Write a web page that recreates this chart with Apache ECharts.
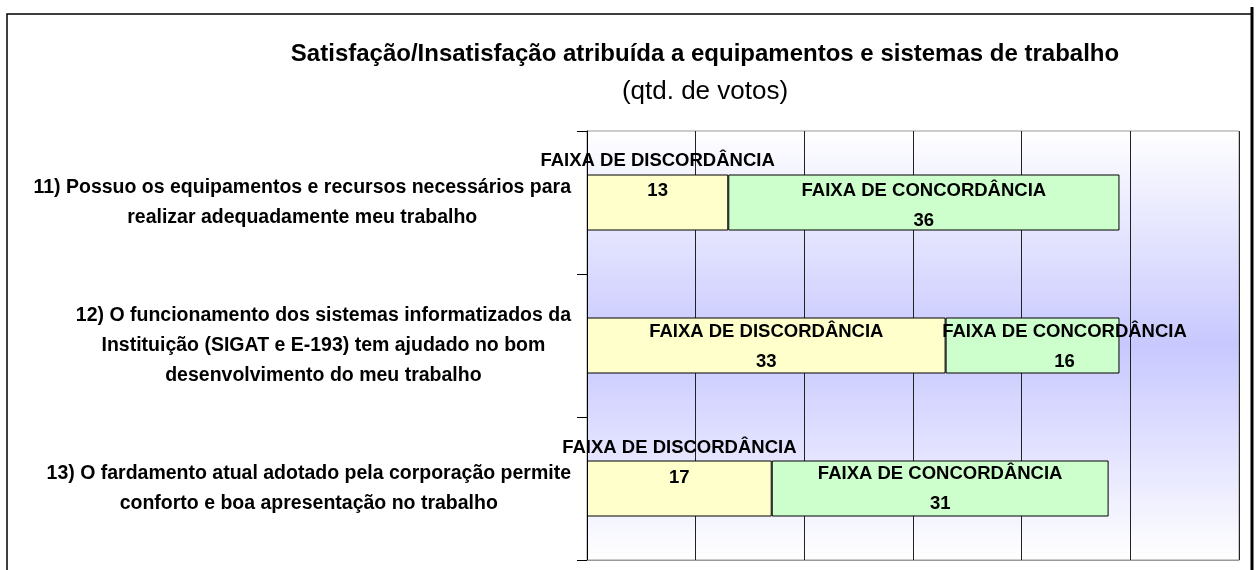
<!DOCTYPE html>
<html>
<head>
<meta charset="utf-8">
<script src="https://cdn.jsdelivr.net/npm/echarts@6/dist/echarts.min.js"></script>
<style>
  html, body { margin: 0; padding: 0; background: #fff; }
  #main { width: 1260px; height: 570px; }
</style>
</head>
<body>
<div id="main"></div>
<script>
// perguntas (eixo de categorias)
var categories = [
  '11) Possuo os equipamentos e recursos necessários para\nrealizar adequadamente meu trabalho',
  '12) O funcionamento dos sistemas informatizados da\nInstituição (SIGAT e E-193) tem ajudado no bom\ndesenvolvimento do meu trabalho',
  '13) O fardamento atual adotado pela corporação permite\nconforto e boa apresentação no trabalho'
]
var discordancia = [13, 33, 17]
var concordancia = [36, 16, 31]
var seriesNames = ['FAIXA DE DISCORDÂNCIA', 'FAIXA DE CONCORDÂNCIA']
var xTicks = { min: 0, max: 60, interval: 10 }

// deslocamento manual dos rótulos (como no gráfico original)
var discOffsets = [[0, -27], [0, 1], [0, -26]]
var concOffsets = [[0, 3], [32, 1], [0, 0]]

var FONT = "'Liberation Sans', Arial, sans-serif"

function buildData(values, offsets) {
  return values.map(function (v, i) {
    return { value: v, label: { offset: offsets[i] } }
  })
}

var chartDom = document.getElementById('main')
var myChart = echarts.init(chartDom)
var option

var barLabel = {
  show: true,
  position: 'inside',
  formatter: '{a}\n{c}',
  color: '#000',
  fontFamily: FONT,
  fontWeight: 'bold',
  fontSize: 18.5,
  lineHeight: 30
}

option = {
  animation: false,
  backgroundColor: '#fff',
  title: [
    {
      text: 'Satisfação/Insatisfação atribuída a equipamentos e sistemas de trabalho',
      left: 700,
      top: 37,
      textAlign: 'center',
      textStyle: { fontFamily: FONT, fontWeight: 'bold', fontSize: 24, color: '#000' }
    },
    {
      text: '(qtd. de votos)',
      left: 700,
      top: 74,
      textAlign: 'center',
      textStyle: { fontFamily: FONT, fontWeight: 'normal', fontSize: 26, color: '#000' }
    }
  ],
  graphic: [
    {
      type: 'polyline',
      shape: { points: [[7, 575], [7, 14], [1252, 14]] },
      style: { stroke: '#000', lineWidth: 1.5, fill: null }
    },
    {
      type: 'line',
      shape: { x1: 1252, y1: 7, x2: 1252, y2: 575 },
      style: { stroke: '#000', lineWidth: 3 }
    }
  ],
  grid: {
    left: 587,
    top: 131,
    width: 652,
    height: 429,
    show: true,
    borderColor: '#999',
    borderWidth: 1,
    backgroundColor: new echarts.graphic.LinearGradient(0, 0, 0, 1, [
      { offset: 0, color: '#ffffff' },
      { offset: 0.5, color: '#c8c8ff' },
      { offset: 1, color: '#ffffff' }
    ])
  },
  xAxis: {
    type: 'value',
    min: xTicks.min,
    max: xTicks.max,
    interval: xTicks.interval,
    axisLabel: { show: false },
    axisTick: { show: false },
    axisLine: { show: true, lineStyle: { color: '#999', width: 1 } },
    splitLine: { show: true, lineStyle: { color: '#222', width: 1 } }
  },
  yAxis: {
    type: 'category',
    inverse: true,
    data: categories,
    axisLine: { show: true, lineStyle: { color: '#000', width: 1 } },
    axisTick: { show: true, length: 10, lineStyle: { color: '#000' } },
    axisLabel: {
      align: 'right',
      margin: 16,
      formatter: function (value) {
        // cada linha centrada dentro do bloco, bloco alinhado à direita
        return value.split('\n').map(function (l) { return '{c|' + l + '}' }).join('\n')
      },
      rich: {
        c: {
          align: 'center',
          color: '#000',
          fontFamily: FONT,
          fontWeight: 'bold',
          fontSize: 19.5,
          lineHeight: 30
        }
      }
    }
  },
  series: [
    {
      name: seriesNames[0],
      type: 'bar',
      stack: 'total',
      barWidth: 56,
      itemStyle: { color: '#ffffcc', borderColor: '#000', borderWidth: 1 },
      label: barLabel,
      data: buildData(discordancia, discOffsets)
    },
    {
      name: seriesNames[1],
      type: 'bar',
      stack: 'total',
      barWidth: 56,
      itemStyle: { color: '#ccffcc', borderColor: '#000', borderWidth: 1 },
      label: barLabel,
      data: buildData(concordancia, concOffsets)
    }
  ]
}
option && myChart.setOption(option)
</script>
</body>
</html>
